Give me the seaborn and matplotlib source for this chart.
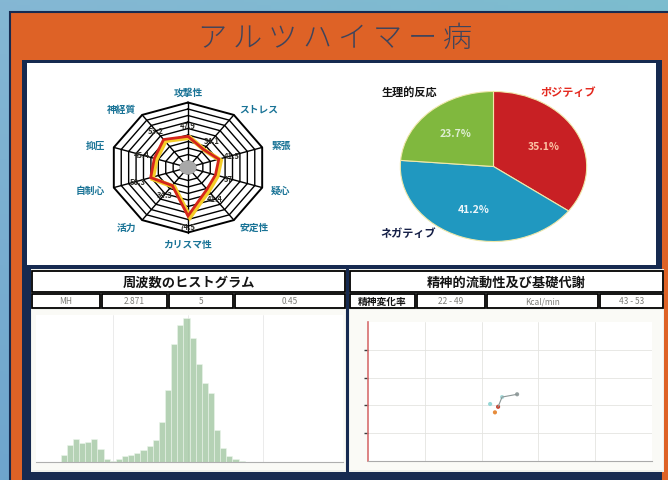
import numpy as np
import pandas as pd
import matplotlib
matplotlib.use("Agg")
import matplotlib.pyplot as plt
import seaborn as sns
from matplotlib.patches import Rectangle, Ellipse

sns.set_theme(style="white")
plt.rcParams['font.family'] = ['Noto Sans CJK JP', 'DejaVu Sans']

W, H = 668, 481

# ---- data ----
radar_labels = ["攻撃性", "ストレス", "緊張", "疑心", "安定性",
                "カリスマ性", "活力", "自制心", "抑圧", "神経質"]
radar_values = [47.9, 34.1, 41.5, 37.0, 41.4, 74.5, 34.3, 50.3, 45.4, 53.2]

pie_labels = ["ポジティブ", "ネガティブ", "生理的反応"]
pie_values = [35.1, 41.2, 23.7]

hist_centers = list(range(1, 100, 2))
hist_counts = [0, 0, 0, 0, 25, 60, 80, 65, 70, 80,
               45, 10, 5, 10, 20, 25, 30, 40, 55, 75,
               140, 250, 410, 475, 500, 430, 340, 275, 240, 110,
               50, 20, 10, 5, 0, 0, 0, 0, 0, 0,
               0, 0, 0, 0, 0, 0, 0, 0, 0, 0]

hist_title = "周波数のヒストグラム"
hist_stats = ["MH", "2.871", "5", "0.45"]
flow_title = "精神的流動性及び基礎代謝"
flow_stats = ["精神変化率", "22 - 49", "Kcal/min", "43 - 53"]
flow_x = [43.0, 44.7, 45.8, 47.2, 52.5]
flow_y = [41.0, 35.0, 39.0, 46.0, 48.0]


def rgb(r, g, b):
    return (r / 255, g / 255, b / 255)


def box(x0, y0, x1, y1):
    # pixel box (top-left origin) -> figure fraction rect
    return [x0 / W, 1 - y1 / H, (x1 - x0) / W, (y1 - y0) / H]


def rect(fig, x0, y0, x1, y1, fc, ec="none", lw=0, z=-5):
    l, b, w, h = box(x0, y0, x1, y1)
    fig.add_artist(Rectangle((l, b), w, h, transform=fig.transFigure,
                             facecolor=fc, edgecolor=ec, linewidth=lw, zorder=z))


fig = plt.figure(figsize=(W / 100, H / 100), dpi=100)

# screen-like gradient background
bg = fig.add_axes([0, 0, 1, 1], zorder=-10)
gx = np.linspace(0, 1, 200)[None, :, None]
gy = np.linspace(0, 1, 150)[:, None, None]
c_left = np.array(rgb(110, 165, 205))
c_right = np.array(rgb(95, 175, 195))
c_top = np.array(rgb(160, 205, 220))
grad = (1 - gx) * c_left + gx * c_right
grad = grad * (0.55 + 0.45 * gy) + c_top * (1 - gy) * 0.45
bg.imshow(np.clip(grad, 0, 1), aspect="auto", extent=[0, 1, 0, 1])
bg.axis("off")

orange = rgb(222, 98, 38)
navy = rgb(22, 42, 80)
rect(fig, 10, 13, 672, 485, orange, ec=navy, lw=1.5, z=-6)
rect(fig, 22, 61, 662, 485, navy, z=-5)
rect(fig, 27, 64, 656, 266, "white", z=-4)

fig.text(335 / W, 1 - 39 / H, "\u2009".join("アルツハイマー病"), fontsize=21,
         fontweight="light", color=rgb(62, 68, 92), ha="center", va="center")

# ---- radar ----
ax_r = fig.add_axes(box(71, 71, 305, 266))
ax_r.set_xlim(-1.5, 1.5)
ax_r.set_ylim(-1.5, 1.5)
ax_r.axis("off")
n = len(radar_labels)
theta = np.arange(n) * 2 * np.pi / n
tc = np.append(theta, theta[0])
for k in range(1, 11):
    rr = k / 10
    ax_r.plot(rr * np.sin(tc), rr * np.cos(tc), color="black",
              lw=1.4 if k == 10 else 1.0, zorder=1)
for t in theta:
    ax_r.plot([0, np.sin(t)], [0, np.cos(t)], color="black", lw=1.0, zorder=1)
ax_r.add_patch(Ellipse((0, 0), 0.22, 0.22, facecolor=rgb(168, 168, 168),
                       edgecolor="none", zorder=2))
rv = np.array(radar_values) / 100
rvc = np.append(rv, rv[0])
ax_r.plot(rvc * np.sin(tc) + 0.025, rvc * np.cos(tc) - 0.02,
          color=rgb(245, 205, 40), lw=3.2, zorder=3, solid_joinstyle="miter")
ax_r.plot(rvc * np.sin(tc), rvc * np.cos(tc), color=rgb(212, 38, 28),
          lw=2.0, zorder=4, solid_joinstyle="miter")
for t, v, lab in zip(theta, rv, radar_labels):
    rl = v + 0.17
    ax_r.text(rl * np.sin(t), rl * np.cos(t), f"{v * 100:g}", fontsize=5.5,
              fontweight="bold", color=rgb(45, 45, 40), ha="center",
              va="center", zorder=5)
    s = np.sin(t)
    ha = "left" if s > 0.2 else ("right" if s < -0.2 else "center")
    kk = 1.12 if abs(s) > 0.2 else 1.17
    ax_r.text(kk * np.sin(t), kk * np.cos(t), lab, fontsize=7,
              fontweight="bold", color=rgb(25, 115, 150), ha=ha, va="center")

# ---- pie ----
ax_p = fig.add_axes(box(391, 85, 596, 250))
wedges, _, autotexts = ax_p.pie(
    pie_values, colors=[rgb(200, 32, 36), rgb(32, 152, 192), rgb(128, 184, 62)],
    startangle=90, counterclock=False, autopct="%.1f%%", pctdistance=0.6,
    wedgeprops=dict(edgecolor=rgb(240, 232, 170), linewidth=0.8))
ax_p.set_aspect("auto")
ax_p.set_xlim(-1.1, 1.1)
ax_p.set_ylim(-1.1, 1.1)
pct_colors = [rgb(252, 196, 165), rgb(238, 246, 250), rgb(222, 238, 210)]
for t, c in zip(autotexts, pct_colors):
    t.set_color(c)
    t.set_fontsize(7.5)
    t.set_fontweight("bold")
ax_p.text(0.8, 1.0, pie_labels[0], fontsize=8, fontweight="bold",
          color=rgb(228, 40, 30), ha="center", va="center")
ax_p.text(-0.92, -0.88, pie_labels[1], fontsize=8, fontweight="bold",
          color=rgb(20, 30, 70), ha="center", va="center")
ax_p.text(-0.9, 0.99, pie_labels[2], fontsize=8, fontweight="bold",
          color=rgb(20, 20, 20), ha="center", va="center")


# ---- bottom panels: headers ----
def header(x0, x1, title, cells, edges, first_bold=False):
    rect(fig, x0, 270, x1, 473, rgb(238, 240, 236), z=-3)
    rect(fig, x0 + 1, 272, x1 - 1, 293, "white", ec="black", lw=1.3, z=-2)
    fig.text((x0 + x1) / 2 / W, 1 - 283 / H, title, fontsize=9.5,
             fontweight="bold", color=rgb(20, 20, 20), ha="center", va="center")
    for i, txt in enumerate(cells):
        a, b = edges[i], edges[i + 1]
        rect(fig, a + 1, 295, b - 1, 309, "white", ec="black", lw=1.3, z=-2)
        bold = first_bold and i == 0
        fig.text((a + b) / 2 / W, 1 - 302 / H, txt,
                 fontsize=7 if bold else 6,
                 fontweight="bold" if bold else "normal",
                 color=rgb(20, 20, 20) if bold else rgb(125, 125, 120),
                 ha="center", va="center")
    rect(fig, x0 + 1, 311, x1 - 1, 471, rgb(250, 250, 246), z=-2)


header(31, 346, hist_title, hist_stats, [31, 101, 168, 234, 346])
header(349, 664, flow_title, flow_stats, [349, 416, 486, 599, 664], first_bold=True)

# ---- histogram ----
hist_df = pd.DataFrame({"freq": hist_centers, "n": hist_counts})
ax_h = fig.add_axes(box(36, 316, 343, 463))
ax_h.set_facecolor("white")
sns.histplot(data=hist_df, x="freq", weights="n", binwidth=2, binrange=(0, 100),
             color=rgb(150, 192, 150), alpha=0.7, edgecolor=rgb(235, 245, 235),
             linewidth=0.4, ax=ax_h)
ax_h.set_xlim(0, 100)
ax_h.set_ylim(0, 510)
ax_h.set_xticks([25, 49.5, 74])
ax_h.set_yticks([])
ax_h.tick_params(axis="x", length=2, color=rgb(150, 150, 150), labelbottom=False)
ax_h.grid(axis="x", color=rgb(232, 232, 232), lw=0.6)
ax_h.set_axisbelow(True)
ax_h.set_xlabel("")
ax_h.set_ylabel("")
for side in ["top", "right", "left"]:
    ax_h.spines[side].set_visible(False)
ax_h.spines["bottom"].set_color(rgb(175, 175, 175))
ax_h.spines["bottom"].set_linewidth(0.8)

# ---- scatter ----
ax_s = fig.add_axes(box(368, 323, 652, 462))
ax_s.set_facecolor("white")
ax_s.plot(flow_x[2:], flow_y[2:], color=rgb(140, 150, 150), lw=0.8)
sns.scatterplot(x=flow_x, y=flow_y, hue=list(range(len(flow_x))),
                palette=[rgb(150, 215, 215), rgb(230, 140, 60), rgb(200, 70, 50),
                         rgb(170, 220, 220), rgb(150, 160, 160)],
                s=9, linewidth=0, legend=False, ax=ax_s)
ax_s.set_xlim(0, 100)
ax_s.set_ylim(0, 100)
ax_s.set_xticks([20, 40, 60, 80])
ax_s.set_yticks([20, 40, 60, 80])
ax_s.tick_params(labelbottom=False, labelleft=False)
ax_s.tick_params(axis="y", length=3, width=1, color=rgb(60, 60, 60), left=True)
ax_s.tick_params(axis="x", length=0)
ax_s.grid(color=rgb(228, 228, 225), lw=0.6)
ax_s.set_axisbelow(True)
for side in ["top", "right"]:
    ax_s.spines[side].set_visible(False)
ax_s.spines["left"].set_color(rgb(215, 110, 110))
ax_s.spines["left"].set_linewidth(1.2)
ax_s.spines["bottom"].set_color(rgb(170, 170, 170))
ax_s.spines["bottom"].set_linewidth(0.8)

fig.savefig("out.png", dpi=100)
